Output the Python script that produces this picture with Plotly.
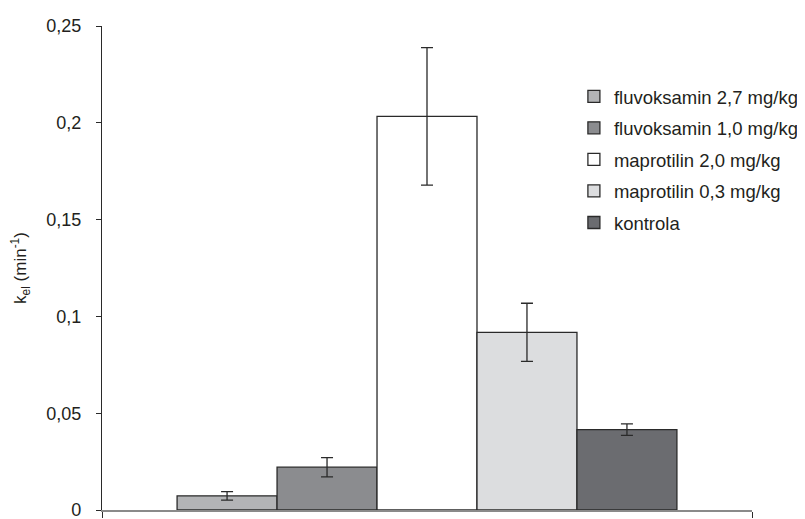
import plotly.graph_objects as go

series_names = ["fluvoksamin 2,7 mg/kg", "fluvoksamin 1,0 mg/kg", "maprotilin 2,0 mg/kg",
                "maprotilin 0,3 mg/kg", "kontrola"]
values = [0.0073, 0.0221, 0.2033, 0.0918, 0.0415]
errors = [0.0022, 0.0050, 0.0355, 0.0150, 0.0030]
colors = ["#b3b4b6", "#8b8c8f", "#ffffff", "#dcdddf", "#6b6c70"]
y_tickvals = [0, 0.05, 0.1, 0.15, 0.2, 0.25]
y_ticktext = ["0", "0,05", "0,1", "0,15", "0,2", "0,25"]

FONT = "Liberation Sans, Arial, sans-serif"
TXT = "#231f20"

fig = go.Figure()
for name, v, e, c in zip(series_names, values, errors, colors):
    fig.add_trace(go.Bar(
        x=[0], y=[v], name=name, legendgroup=name,
        marker=dict(color=c, line=dict(color="#2a2a2a", width=1.3)),
        error_y=dict(type="data", array=[e], visible=True, color="#2a2a2a",
                     thickness=1.3, width=6),
    ))

fig.update_layout(
    width=805, height=519,
    paper_bgcolor="white", plot_bgcolor="white",
    margin=dict(l=94, r=61, t=18, b=7),
    barmode="group", bargap=0.231,
    separators=", ",
    font=dict(family=FONT, size=18, color=TXT),
    showlegend=True,
    legend=dict(x=0.726, y=0.893, xanchor="left", yanchor="top",
                traceorder="grouped", tracegroupgap=4.5,
                font=dict(family=FONT, size=18.5, color=TXT),
                bgcolor="rgba(0,0,0,0)"),
    xaxis=dict(range=[-0.5, 0.5], tickvals=[-0.5, 0.5], showticklabels=False,
               ticks="outside", ticklen=6, tickcolor="#2a2a2a", tickwidth=1.2,
               showline=True, linecolor="#8a8a8a", linewidth=1.5,
               showgrid=False, zeroline=False, fixedrange=True),
    xaxis2=dict(range=[-0.5, 0.5], tickvals=[-0.5, 0.5], showticklabels=False,
                overlaying="x", anchor="y", side="bottom",
                ticks="inside", ticklen=6, tickcolor="#2a2a2a", tickwidth=1.2,
                showline=False, showgrid=False, zeroline=False),
    yaxis=dict(range=[0, 0.25], tickvals=y_tickvals, ticktext=y_ticktext,
               ticks="outside", ticklen=5, tickcolor="#2a2a2a", tickwidth=1.2,
               showline=True, linecolor="#2a2a2a", linewidth=1.3,
               showgrid=False, zeroline=False, ticklabelstandoff=11,
               tickfont=dict(family=FONT, size=18, color=TXT),
               title=dict(text="k<sub>el</sub> (min<sup>-1</sup>)", standoff=16,
                          font=dict(family=FONT, size=17, color=TXT))),
    yaxis2=dict(range=[0, 0.25], tickvals=y_tickvals, showticklabels=False,
                overlaying="y", anchor="x", side="left",
                ticks="inside", ticklen=5, tickcolor="#2a2a2a", tickwidth=1.2,
                showline=False, showgrid=False, zeroline=False),
)

fig.write_html("out.html")
